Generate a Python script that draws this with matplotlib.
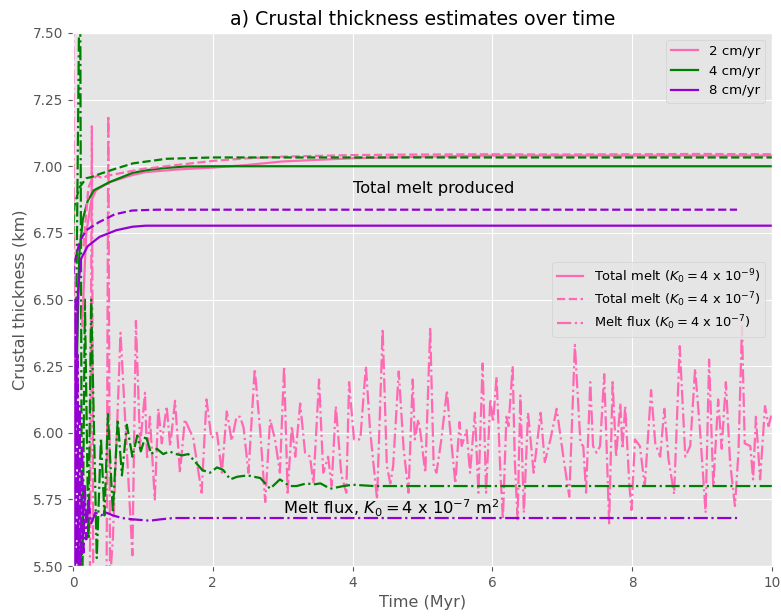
import matplotlib
matplotlib.use("Agg")
import matplotlib.pyplot as plt
from matplotlib.lines import Line2D

plt.style.use("ggplot")

# ---------------- data ----------------
# Total melt, K0 = 4e-9 (solid)
tm9_pink_t = [0.13, 0.19, 0.26, 0.33, 0.52, 0.85, 1.04, 1.5, 2.0, 2.5, 3.0, 4.0, 5.0, 6.0, 8.0, 10.0]
tm9_pink_v = [6.40, 6.75, 6.87, 6.91, 6.94, 6.967, 6.978, 6.988, 6.995, 7.005, 7.018, 7.03, 7.036, 7.04, 7.04, 7.04]
tm9_green_t = [0.05, 0.09, 0.14, 0.21, 0.30, 0.52, 0.85, 1.04, 1.3, 1.6, 2.0, 10.0]
tm9_green_v = [6.20, 6.67, 6.80, 6.87, 6.91, 6.94, 6.975, 6.985, 6.993, 6.999, 7.0, 7.0]
tm9_purple_t = [0.03, 0.07, 0.11, 0.21, 0.38, 0.62, 0.85, 1.04, 2.0, 10.0]
tm9_purple_v = [6.00, 6.52, 6.65, 6.70, 6.735, 6.76, 6.773, 6.777, 6.777, 6.777]

# Total melt, K0 = 4e-7 (dashed)
tm7_pink_t = [0.15, 0.22, 0.27, 0.35, 0.42, 0.5, 0.6, 0.8, 1.0, 1.5, 2.0, 2.5, 3.0, 4.0, 5.0, 6.0, 7.0, 8.0, 9.0, 10.0]
tm7_pink_v = [6.70, 6.92, 6.95, 6.965, 6.955, 6.965, 6.97, 6.98, 6.99, 7.005, 7.02, 7.03, 7.036, 7.042, 7.044, 7.045, 7.044, 7.045, 7.046, 7.045]
tm7_green_t = [0.0, 0.02, 0.09, 0.19, 0.27, 0.37, 0.6, 0.86, 1.34, 2.0, 10.0]
tm7_green_v = [6.70, 6.85, 6.92, 6.955, 6.96, 6.97, 6.99, 7.011, 7.028, 7.033, 7.033]
tm7_purple_t = [0.0, 0.02, 0.1, 0.19, 0.37, 0.6, 0.85, 1.2, 9.5]
tm7_purple_v = [6.55, 6.64, 6.72, 6.76, 6.79, 6.82, 6.834, 6.837, 6.837]

# Melt flux, K0 = 4e-7 (dash-dot)
mf_pink_t = [0.0, 0.03, 0.24, 0.27, 0.29, 0.48, 0.505, 0.53, 0.57, 0.68, 0.85, 0.90, 0.96,
             1.03, 1.06, 1.10, 1.17, 1.22, 1.27, 1.34, 1.39, 1.46, 1.53, 1.60, 1.72, 1.84,
             1.91, 1.98, 2.06, 2.13, 2.20, 2.27, 2.34, 2.39, 2.44, 2.51, 2.60, 2.68, 2.75,
             2.82, 2.89, 2.96, 3.02, 3.07, 3.13, 3.18, 3.25, 3.32, 3.39, 3.44, 3.52, 3.58,
             3.65, 3.70, 3.76, 3.84, 3.91, 3.95, 4.02, 4.11, 4.19, 4.25, 4.35, 4.43, 4.49,
             4.54, 4.58, 4.66, 4.73, 4.80, 4.86, 4.89, 4.94, 4.97, 5.04, 5.11, 5.16, 5.20,
             5.27, 5.35, 5.39, 5.47, 5.53, 5.56, 5.63, 5.68, 5.75, 5.80, 5.86, 5.91, 5.97,
             6.01, 6.06, 6.11, 6.15, 6.20, 6.23, 6.29, 6.32, 6.36, 6.40, 6.45, 6.51, 6.59,
             6.69, 6.75, 6.83, 6.92, 7.02, 7.10, 7.18, 7.26, 7.30, 7.34, 7.40, 7.44, 7.49,
             7.54, 7.60, 7.64, 7.67, 7.72, 7.77, 7.83, 7.86, 7.90, 7.96, 7.99, 8.04, 8.11,
             8.18, 8.27, 8.33, 8.40, 8.46, 8.52, 8.60, 8.68, 8.76, 8.83, 8.90, 8.97, 9.05,
             9.10, 9.16, 9.23, 9.28, 9.34, 9.40, 9.47, 9.52, 9.57, 9.61, 9.69, 9.73, 9.77,
             9.83, 9.90, 9.95, 10.0]
mf_pink_v = [8.0, 5.3, 5.35, 7.15, 5.4, 5.4, 7.19, 5.45, 5.6, 6.375, 5.54, 6.42, 5.95,
             6.15, 5.90, 6.06, 5.75, 6.09, 5.96, 6.10, 5.95, 6.12, 5.85, 6.05, 5.98, 5.775,
             6.125, 5.98, 6.00, 5.85, 6.08, 5.97, 6.06, 6.06, 6.02, 5.85, 6.24, 6.00, 5.74,
             6.05, 5.975, 5.85, 6.25, 5.775, 6.025, 5.91, 6.11, 5.925, 5.91, 5.81, 6.20, 5.85,
             5.91, 5.80, 6.10, 5.84, 5.775, 6.19, 5.975, 5.975, 6.25, 6.01, 5.75, 6.39, 5.875,
             5.81, 5.875, 6.23, 5.94, 5.775, 6.20, 5.975, 6.05, 6.00, 5.85, 6.39, 5.875, 5.85,
             5.975, 6.16, 6.025, 5.81, 6.04, 5.95, 6.01, 5.85, 6.075, 5.775, 6.26, 5.775, 6.125,
             6.04, 6.21, 5.875, 5.675, 6.06, 6.025, 6.25, 5.90, 5.675, 6.14, 5.70, 6.075, 5.85,
             6.075, 5.89, 5.975, 6.09, 5.90, 5.76, 6.33, 5.96, 5.95, 5.775, 6.19, 5.95, 5.925,
             5.95, 6.22, 5.90, 5.66, 6.19, 5.91, 6.11, 5.94, 6.10, 5.80, 5.71, 5.975, 5.95,
             5.80, 6.16, 5.96, 5.91, 6.09, 5.90, 5.77, 6.325, 5.91, 5.95, 6.24, 6.01, 5.70,
             6.275, 5.80, 6.125, 5.94, 6.19, 5.89, 5.725, 5.925, 6.40, 5.96, 5.95, 5.825, 6.06,
             5.825, 6.10, 6.025, 6.075]

mf_green_t = [0.0, 0.10, 0.13, 0.17, 0.22, 0.26, 0.34, 0.40, 0.45, 0.50, 0.57, 0.64, 0.70,
              0.77, 0.85, 0.92, 0.97, 1.04, 1.12, 1.20, 1.29, 1.38, 1.47, 1.56, 1.65, 1.75,
              1.85, 1.96, 2.06, 2.15, 2.25, 2.35, 2.50, 2.68, 2.82, 2.96, 3.10, 3.20, 3.34,
              3.44, 3.54, 3.68, 3.87, 4.0, 4.3, 4.5, 10.0]
mf_green_v = [5.2, 7.9, 5.3, 6.5, 5.6, 6.5, 5.53, 5.98, 5.69, 6.07, 5.70, 6.05, 5.84,
              6.03, 5.91, 5.99, 5.93, 5.99, 5.92, 5.94, 5.92, 5.93, 5.92, 5.915, 5.92, 5.89,
              5.86, 5.85, 5.87, 5.86, 5.825, 5.835, 5.84, 5.83, 5.79, 5.825, 5.80, 5.80, 5.81,
              5.806, 5.81, 5.79, 5.80, 5.805, 5.80, 5.80, 5.80]

mf_purple_t = [0.0, 0.02, 0.035, 0.05, 0.065, 0.08, 0.095, 0.11, 0.13, 0.15, 0.17, 0.19,
               0.22, 0.26, 0.32, 0.40, 0.48, 0.57, 0.70, 0.86, 1.10, 1.25, 1.44, 2.0, 9.5]
mf_purple_v = [6.55, 5.40, 6.50, 5.45, 6.30, 5.50, 6.10, 5.50, 5.95, 5.55, 5.80, 5.60,
               5.75, 5.66, 5.70, 5.69, 5.70, 5.69, 5.68, 5.675, 5.67, 5.675, 5.68, 5.68, 5.68]

speeds = ["2 cm/yr", "4 cm/yr", "8 cm/yr"]
colors = ["hotpink", "green", "darkviolet"]

# ---------------- figure ----------------
fig = plt.figure(figsize=(7.81, 6.16), dpi=100)
ax = fig.add_axes([73 / 781, 1 - 566 / 616, (772 - 73) / 781, (566 - 33) / 616])

lw = 1.6
ax.plot(mf_pink_t, mf_pink_v, color=colors[0], ls="-.", lw=lw)
ax.plot(mf_green_t, mf_green_v, color=colors[1], ls="-.", lw=lw)
ax.plot(mf_purple_t, mf_purple_v, color=colors[2], ls="-.", lw=lw)

ax.plot(tm9_pink_t, tm9_pink_v, color=colors[0], ls="-", lw=lw)
ax.plot(tm9_green_t, tm9_green_v, color=colors[1], ls="-", lw=lw)
ax.plot(tm9_purple_t, tm9_purple_v, color=colors[2], ls="-", lw=lw)

ax.plot(tm7_pink_t, tm7_pink_v, color=colors[0], ls="--", lw=lw)
ax.plot(tm7_green_t, tm7_green_v, color=colors[1], ls="--", lw=lw)
ax.plot(tm7_purple_t, tm7_purple_v, color=colors[2], ls="--", lw=lw)

ax.set_xlim(0, 10)
ax.set_ylim(5.5, 7.5)
ax.set_xticks([0, 2, 4, 6, 8, 10])
ax.set_yticks([5.5, 5.75, 6.0, 6.25, 6.5, 6.75, 7.0, 7.25, 7.5])
ax.yaxis.set_major_formatter(matplotlib.ticker.FormatStrFormatter("%.2f"))
ax.tick_params(labelsize=9.8)

ax.set_title("a) Crustal thickness estimates over time", fontsize=13.7)
ax.set_xlabel("Time (Myr)", fontsize=11.5)
ax.set_ylabel("Crustal thickness (km)", fontsize=11.5)

ax.text(4.0, 6.915, "Total melt produced", fontsize=11.7, va="center", ha="left")
ax.text(3.0, 5.715, r"Melt flux, $K_0 = 4$ x 10$^{-7}$ m$^2$", fontsize=11.7,
        va="center", ha="left")

h1 = [Line2D([], [], color=c, ls="-", lw=lw) for c in colors]
leg1 = ax.legend(h1, speeds, loc="upper right", fontsize=9.6)
ax.add_artist(leg1)

h2 = [Line2D([], [], color=colors[0], ls=s, lw=lw) for s in ["-", "--", "-."]]
labels2 = [r"Total melt ($K_0 = 4$ x 10$^{-9}$)",
           r"Total melt ($K_0 = 4$ x 10$^{-7}$)",
           r"Melt flux ($K_0 = 4$ x 10$^{-7}$)"]
ax.legend(h2, labels2, loc="center right", fontsize=9.4, labelspacing=0.35)

fig.savefig("out.png", dpi=100)
